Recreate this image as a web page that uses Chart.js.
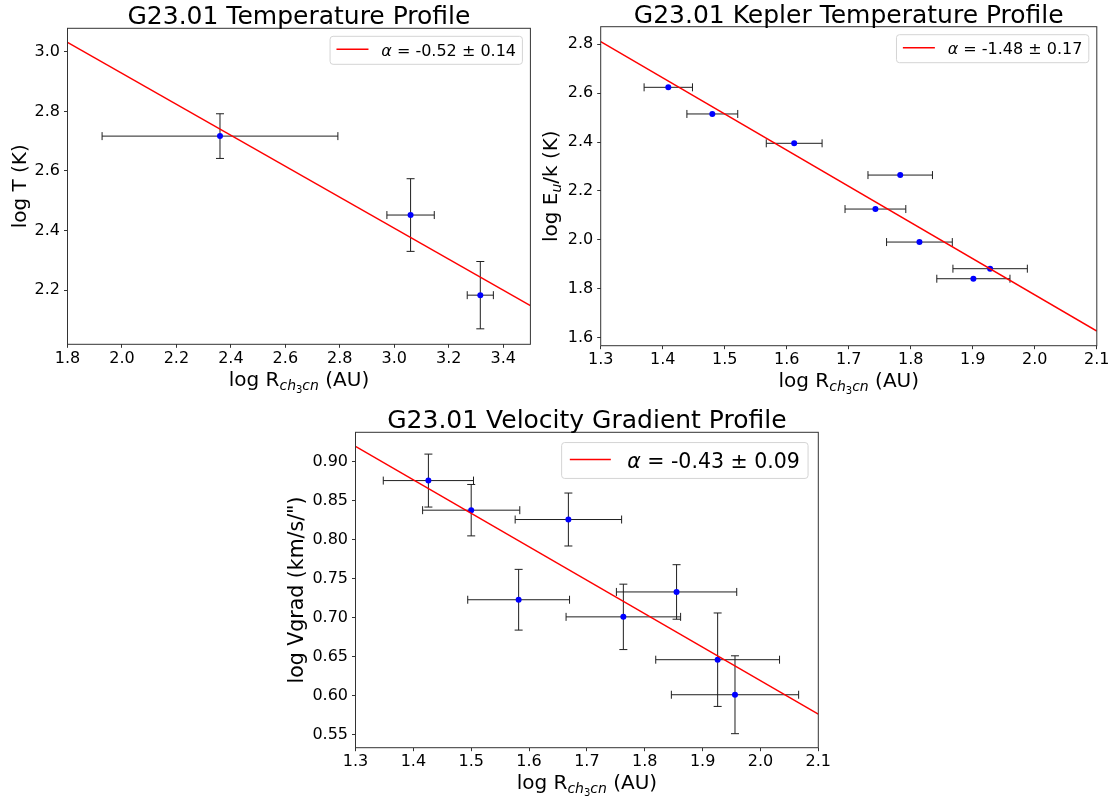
<!DOCTYPE html>
<html>
<head>
<meta charset="utf-8">
<script src="https://cdn.jsdelivr.net/npm/chart.js@4.4.1/dist/chart.umd.min.js"></script>
<style>
  body { margin: 0; background: #fff; }
  canvas { position: absolute; }
</style>
</head>
<body>
<canvas id="temp" width="540" height="400" style="left:0;top:0"></canvas>
<canvas id="kepler" width="575" height="400" style="left:540px;top:0"></canvas>
<canvas id="vgrad" width="600" height="401" style="left:250px;top:400px"></canvas>
<script>
const FONT = "'DejaVu Sans', sans-serif";

// G23.01 Temperature Profile
const tempLogR    = [2.360, 3.060, 3.316];
const tempLogRErr = [0.433, 0.087, 0.048];
const tempLogT    = [2.717, 2.452, 2.183];
const tempLogTErr = [0.075, 0.122, 0.113];
const tempFit     = [-0.52, 3.968];          // slope, intercept
const tempXRange  = [1.8, 3.5];
const tempYRange  = [2.018, 3.079];
const tempXTicks  = [1.8, 2.0, 2.2, 2.4, 2.6, 2.8, 3.0, 3.2, 3.4];
const tempYTicks  = [2.2, 2.4, 2.6, 2.8, 3.0];

// G23.01 Kepler Temperature Profile
const kepLogR    = [1.409, 1.480, 1.612, 1.783, 1.743, 1.814, 1.928, 1.901];
const kepLogRErr = [0.039, 0.041, 0.045, 0.052, 0.049, 0.053, 0.060, 0.059];
const kepLogE    = [2.624, 2.515, 2.395, 2.265, 2.126, 1.991, 1.882, 1.841];
const kepFit     = [-1.48, 4.735];
const kepXRange  = [1.3, 2.1];
const kepYRange  = [1.567, 2.872];
const kepXTicks  = [1.3, 1.4, 1.5, 1.6, 1.7, 1.8, 1.9, 2.0, 2.1];
const kepYTicks  = [1.6, 1.8, 2.0, 2.2, 2.4, 2.6, 2.8];

// G23.01 Velocity Gradient Profile
const velLogR    = [1.426, 1.500, 1.668, 1.582, 1.763, 1.855, 1.926, 1.956];
const velLogRErr = [0.078, 0.084, 0.092, 0.088, 0.099, 0.104, 0.107, 0.110];
const velLogV    = [0.876, 0.838, 0.826, 0.723, 0.701, 0.733, 0.646, 0.601];
const velLogVErr = [0.034, 0.033, 0.034, 0.039, 0.042, 0.035, 0.060, 0.050];
const velFit     = [-0.43, 1.479];
const velXRange  = [1.3, 2.1];
const velYRange  = [0.533, 0.938];
const velXTicks  = [1.3, 1.4, 1.5, 1.6, 1.7, 1.8, 1.9, 2.0, 2.1];
const velYTicks  = [0.55, 0.60, 0.65, 0.70, 0.75, 0.80, 0.85, 0.90];

// text runs: [text, size, italic, drop]
const rLabel = [['log R', 20], ['ch', 14, true, 4], ['3', 10, false, 7], ['cn', 14, true, 4], [' (AU)', 20]];

const panels = {};

function font(r) {
  return (r[2] ? 'italic ' : '') + r[1] + 'px ' + FONT;
}
function drawRuns(ctx, runs, x, y, align) {
  var w = 0;
  runs.forEach(function (r) { ctx.font = font(r); r.w = ctx.measureText(r[0]).width; w += r.w; });
  var cx = align === 'center' ? x - w / 2 : x;
  ctx.textBaseline = 'alphabetic';
  ctx.textAlign = 'left';
  runs.forEach(function (r) { ctx.font = font(r); ctx.fillText(r[0], cx, y + (r[3] || 0)); cx += r.w; });
  return w;
}
function runsWidth(ctx, runs) {
  var w = 0;
  runs.forEach(function (r) { ctx.font = font(r); w += ctx.measureText(r[0]).width; });
  return w;
}

const panelPlugin = {
  id: 'panelText',
  beforeDatasetsDraw: function (chart) {
    var p = panels[chart.canvas.id];
    var ctx = chart.ctx, xs = chart.scales.x, ys = chart.scales.y;
    var cap = 4;
    ctx.save();
    ctx.strokeStyle = '#1f1f1f';
    ctx.lineWidth = 1;
    ctx.beginPath();
    p.x.forEach(function (xv, i) {
      var px = xs.getPixelForValue(xv), py = ys.getPixelForValue(p.y[i]);
      if (p.xErr) {
        var l = xs.getPixelForValue(xv - p.xErr[i]), r = xs.getPixelForValue(xv + p.xErr[i]);
        ctx.moveTo(l, py); ctx.lineTo(r, py);
        ctx.moveTo(l, py - cap); ctx.lineTo(l, py + cap);
        ctx.moveTo(r, py - cap); ctx.lineTo(r, py + cap);
      }
      if (p.yErr) {
        var t = ys.getPixelForValue(p.y[i] + p.yErr[i]), b = ys.getPixelForValue(p.y[i] - p.yErr[i]);
        ctx.moveTo(px, t); ctx.lineTo(px, b);
        ctx.moveTo(px - cap, t); ctx.lineTo(px + cap, t);
        ctx.moveTo(px - cap, b); ctx.lineTo(px + cap, b);
      }
    });
    ctx.stroke();
    ctx.restore();
  },
  afterDraw: function (chart) {
    var p = panels[chart.canvas.id];
    var ctx = chart.ctx, ca = chart.chartArea;
    ctx.save();
    // axes frame
    ctx.strokeStyle = '#333';
    ctx.lineWidth = 1;
    ctx.strokeRect(ca.left, ca.top, ca.right - ca.left, ca.bottom - ca.top);

    ctx.fillStyle = '#000';
    // title
    drawRuns(ctx, [[p.title, 25]], (ca.left + ca.right) / 2, ca.top - 4, 'center');
    // x label
    drawRuns(ctx, rLabel, (ca.left + ca.right) / 2, ca.bottom + 41.5, 'center');
    // y label
    ctx.save();
    ctx.translate(p.yLabelX, (ca.top + ca.bottom) / 2);
    ctx.rotate(-Math.PI / 2);
    drawRuns(ctx, p.yLabel, 0, 0, 'center');
    ctx.restore();

    // legend
    var fs = p.legendSize;
    var runs = [['\u03b1', fs, true], [p.legend, fs]];
    var tw = runsWidth(ctx, runs);
    var w = 3.6 * fs + tw, h = 1.75 * fs;
    var bx = ca.right - 0.5 * fs - w, by = ca.top + 0.5 * fs, rad = 3;
    ctx.beginPath();
    ctx.moveTo(bx + rad, by);
    ctx.arcTo(bx + w, by, bx + w, by + h, rad);
    ctx.arcTo(bx + w, by + h, bx, by + h, rad);
    ctx.arcTo(bx, by + h, bx, by, rad);
    ctx.arcTo(bx, by, bx + w, by, rad);
    ctx.closePath();
    ctx.fillStyle = 'rgba(255,255,255,0.8)';
    ctx.fill();
    ctx.strokeStyle = '#d4d4d4';
    ctx.stroke();
    ctx.strokeStyle = '#ff0000';
    ctx.lineWidth = 1.4;
    ctx.beginPath();
    ctx.moveTo(bx + 0.4 * fs, by + h / 2 - 1);
    ctx.lineTo(bx + 2.4 * fs, by + h / 2 - 1);
    ctx.stroke();
    ctx.fillStyle = '#000';
    drawRuns(ctx, runs, bx + 3.2 * fs, by + h / 2 + 0.36 * fs, 'left');
    ctx.restore();
  }
};

function axis(range, ticks, dec, size, dir) {
  return {
    type: 'linear',
    min: range[0],
    max: range[1],
    grid: { display: true, drawOnChartArea: false, drawTicks: true, tickLength: 3.5, tickWidth: 1, tickColor: '#333' },
    border: { display: false },
    ticks: {
      color: '#000',
      font: { family: FONT, size: 16 },
      padding: dir === 'x' ? 1 : 4,
      autoSkip: false,
      maxRotation: 0,
      callback: function (v) { return Number(v).toFixed(dec); }
    },
    afterBuildTicks: function (s) { s.ticks = ticks.map(function (v) { return { value: v }; }); },
    afterFit: function (s) { if (dir === 'x') s.height = size; else s.width = size; }
  };
}

function makePanel(id, p) {
  panels[id] = p;
  var pts = p.x.map(function (x, i) { return { x: x, y: p.y[i] }; });
  var fitPts = p.xRange.map(function (x) { return { x: x, y: p.fit[0] * x + p.fit[1] }; });
  new Chart(document.getElementById(id), {
    type: 'scatter',
    data: {
      datasets: [
        { type: 'line', data: fitPts, borderColor: '#ff0000', borderWidth: 1.4, pointRadius: 0, fill: false, order: 0 },
        { data: pts, backgroundColor: '#0000ff', borderWidth: 0, pointRadius: 3, order: 1 }
      ]
    },
    options: {
      animation: false,
      responsive: false,
      layout: { padding: { top: p.pad[0], right: p.pad[1], bottom: 0, left: 0 } },
      plugins: { legend: { display: false }, tooltip: { enabled: false }, title: { display: false } },
      scales: {
        x: axis(p.xRange, p.xTicks, p.xDec, p.xAxisH, 'x'),
        y: axis(p.yRange, p.yTicks, p.yDec, p.yAxisW, 'y')
      }
    },
    plugins: [panelPlugin]
  });
}

makePanel('temp', {
  title: 'G23.01 Temperature Profile',
  x: tempLogR, y: tempLogT, xErr: tempLogRErr, yErr: tempLogTErr, fit: tempFit,
  xRange: tempXRange, yRange: tempYRange, xTicks: tempXTicks, yTicks: tempYTicks, xDec: 1, yDec: 1,
  legend: ' = -0.52 \u00b1 0.14', legendSize: 16,
  yLabel: [['log T (K)', 20]], yLabelX: 25.8,
  pad: [28.3, 9.6], yAxisW: 67.5, xAxisH: 55.7
});

makePanel('kepler', {
  title: 'G23.01 Kepler Temperature Profile',
  x: kepLogR, y: kepLogE, xErr: kepLogRErr, yErr: null, fit: kepFit,
  xRange: kepXRange, yRange: kepYRange, xTicks: kepXTicks, yTicks: kepYTicks, xDec: 1, yDec: 1,
  legend: ' = -1.48 \u00b1 0.17', legendSize: 16,
  yLabel: [['log E', 20], ['u', 14, true, 4], ['/k (K)', 20]], yLabelX: 17,
  pad: [26.7, 18.2], yAxisW: 60.7, xAxisH: 54.3
});

makePanel('vgrad', {
  title: 'G23.01 Velocity Gradient Profile',
  x: velLogR, y: velLogV, xErr: velLogRErr, yErr: velLogVErr, fit: velFit,
  xRange: velXRange, yRange: velYRange, xTicks: velXTicks, yTicks: velYTicks, xDec: 1, yDec: 2,
  legend: ' = -0.43 \u00b1 0.09', legendSize: 20.5,
  yLabel: [['log Vgrad (km/s/")', 20.5]], yLabelX: 52.5,
  pad: [32.3, 31.7], yAxisW: 105.5, xAxisH: 53.3
});
</script>
</body>
</html>
